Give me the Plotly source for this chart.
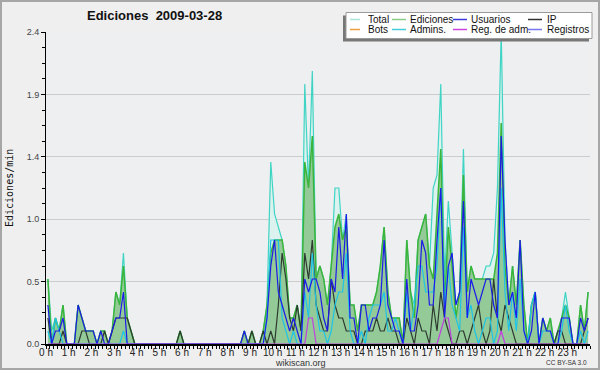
import plotly.graph_objects as go

# ---- data: edits per minute, 10-minute buckets (6 per hour) ----
hour_labels = [f"{h} h" for h in range(24)]

total = [
    0.5, 0.1, 0.2, 0.1, 0.3, 0,    0, 0, 0.3, 0.2, 0.1, 0.1,
    0.1, 0, 0.1, 0.1, 0, 0.1,      0.4, 0.3, 0.7, 0.2, 0.1, 0,
    0, 0, 0, 0, 0, 0,              0, 0, 0, 0, 0, 0.1,
    0, 0, 0, 0, 0, 0,              0, 0, 0, 0, 0, 0,
    0, 0, 0, 0, 0.1, 0,            0.1, 0, 0, 0.1, 0.3, 1.4,
    1.0, 0.9, 0.8, 0.6, 0.2, 0.2,  0.3, 0.1, 2.0, 1.2, 2.1, 0.5,
    0.6, 0.5, 0.3, 0.6, 1.2, 1.2,  0.8, 1.0, 0.3, 0.3, 0.1, 0.3,
    0.3, 0.3, 0.3, 0.4, 0.6, 0.9,  0.4, 0.2, 0.2, 0.2, 0, 0.8,
    0.4, 0.3, 0.8, 0.9, 1.0, 0.6,  1.2, 1.3, 2.0, 0.5, 1.1, 0.7,
    0.3, 0.4, 1.5, 0.4, 0.6, 0.5,  0.5, 0.5, 0.6, 0.6, 0.7, 1.2,
    2.4, 0.8, 0.3, 0.6, 0.3, 0.8,  0.3, 0, 0.3, 0.4, 0, 0.2,
    0.1, 0.2, 0, 0.1, 0.2, 0.4,    0.2, 0, 0, 0.3, 0.1, 0.4,
]
ediciones = [
    0.5, 0, 0.2, 0.1, 0.3, 0,      0, 0, 0.3, 0.2, 0.1, 0.1,
    0.1, 0, 0.1, 0.1, 0, 0.1,      0.4, 0.3, 0.6, 0.2, 0.1, 0,
    0, 0, 0, 0, 0, 0,              0, 0, 0, 0, 0, 0.1,
    0, 0, 0, 0, 0, 0,              0, 0, 0, 0, 0, 0,
    0, 0, 0, 0, 0.1, 0,            0.1, 0, 0, 0.1, 0.3, 0.7,
    0.8, 0.8, 0.8, 0.6, 0.2, 0.2,  0.3, 0.1, 1.4, 1.2, 1.6, 0.5,
    0.6, 0.5, 0.3, 0.6, 0.9, 1.0,  0.8, 0.9, 0.3, 0.3, 0.1, 0.3,
    0.3, 0.3, 0.3, 0.4, 0.6, 0.9,  0.4, 0.2, 0.2, 0.2, 0, 0.8,
    0.4, 0.2, 0.8, 0.9, 1.0, 0.6,  0.5, 1.0, 1.5, 0.3, 0.9, 0.6,
    0.2, 0.4, 1.3, 0.4, 0.6, 0.5,  0.5, 0.5, 0.5, 0.5, 0.5, 0.7,
    1.7, 0.6, 0.3, 0.6, 0.3, 0.8,  0.3, 0, 0.3, 0.4, 0, 0.2,
    0.1, 0.2, 0, 0.1, 0.2, 0.3,    0.2, 0, 0, 0.3, 0.1, 0.4,
]
usuarios = [
    0.3, 0, 0.1, 0.1, 0.2, 0,      0, 0, 0.3, 0.2, 0.1, 0.1,
    0.1, 0, 0.1, 0, 0, 0.1,        0.2, 0.2, 0.4, 0, 0, 0,
    0, 0, 0, 0, 0, 0,              0, 0, 0, 0, 0, 0,
    0, 0, 0, 0, 0, 0,              0, 0, 0, 0, 0, 0,
    0, 0, 0, 0, 0.1, 0,            0, 0, 0, 0, 0.2, 0.6,
    0.8, 0.4, 0.3, 0.2, 0.1, 0.2,  0.1, 0, 0.5, 0.4, 0.5, 0.5,
    0.4, 0.2, 0.1, 0.5, 0.4, 0.9,  0.5, 1.0, 0.2, 0.2, 0, 0.3,
    0.3, 0.1, 0.2, 0.2, 0.3, 0.8,  0.3, 0.2, 0.1, 0.1, 0, 0.5,
    0.1, 0.1, 0.3, 0.8, 0.7, 0.3,  0.3, 0.8, 1.2, 0.2, 0.6, 0.7,
    0.3, 0.4, 1.1, 0.2, 0.5, 0.4,  0.3, 0.4, 0.5, 0.5, 0.3, 0.2,
    1.6, 0.8, 0.3, 0.4, 0.2, 0.8,  0.1, 0, 0.1, 0.4, 0, 0.2,
    0.1, 0.1, 0, 0, 0.2, 0.2,      0.2, 0, 0, 0.2, 0.1, 0.2,
]
ip = [
    0.2, 0, 0, 0, 0.1, 0,          0, 0, 0, 0.1, 0.1, 0,
    0, 0, 0, 0.1, 0, 0.1,          0.2, 0.2, 0.2, 0.2, 0.1, 0,
    0, 0, 0, 0, 0, 0,              0, 0, 0, 0, 0, 0.1,
    0, 0, 0, 0, 0, 0,              0, 0, 0, 0, 0, 0,
    0, 0, 0, 0, 0, 0,              0.1, 0, 0, 0.1, 0, 0.1,
    0, 0.3, 0.7, 0.5, 0.2, 0.1,    0.3, 0.1, 0.7, 0.5, 0.8, 0.3,
    0.2, 0.1, 0.1, 0.5, 0.3, 0.2,  0.2, 0.1, 0.1, 0.1, 0, 0,
    0.1, 0.1, 0.1, 0.2, 0.1, 0.1,  0.2, 0.1, 0.1, 0, 0, 0.2,
    0.1, 0, 0.2, 0.1, 0.1, 0,      0.3, 0.1, 0.4, 0.2, 0.1, 0,
    0, 0.1, 0.1, 0, 0.1, 0.2,      0.3, 0.1, 0, 0.1, 0.5, 0.2,
    0.1, 0.3, 0.2, 0.1, 0, 0,      0, 0, 0, 0, 0, 0,
    0, 0, 0, 0.1, 0.1, 0,          0, 0, 0, 0, 0.1, 0.2,
]
admins = [
    0.1, 0, 0.2, 0.1, 0, 0,        0, 0, 0, 0, 0, 0,
    0, 0, 0, 0, 0, 0,              0, 0, 0.1, 0, 0, 0,
    0, 0, 0, 0, 0, 0,              0, 0, 0, 0, 0, 0,
    0, 0, 0, 0, 0, 0,              0, 0, 0, 0, 0, 0,
    0, 0, 0, 0, 0, 0,              0, 0, 0, 0, 0.2, 0.8,
    0.8, 0.8, 0.2, 0.1, 0, 0.1,    0, 0, 0.4, 0.2, 0.7, 0.3,
    0.1, 0.1, 0, 0.1, 0.3, 0.4,    0.4, 0.7, 0.1, 0, 0, 0.1,
    0, 0.2, 0.3, 0.3, 0.3, 0.4,    0.1, 0.1, 0.2, 0.1, 0, 0.4,
    0.1, 0.3, 0.6, 0.6, 0.4, 0.4,  0.4, 0.6, 1.2, 0.3, 0.6, 0.3,
    0.2, 0.1, 0.9, 0.2, 0.3, 0.1,  0, 0.1, 0.2, 0.2, 0, 0.1,
    1.2, 0.4, 0.1, 0.4, 0.1, 0.5,  0.1, 0, 0.3, 0.4, 0, 0.1,
    0.1, 0.1, 0, 0, 0.1, 0.3,      0.1, 0, 0, 0.1, 0, 0.1,
]
reg_adm = [
    0, 0, 0, 0, 0, 0,              0, 0, 0, 0, 0, 0,
    0, 0, 0, 0, 0, 0,              0, 0, 0, 0, 0, 0,
    0, 0, 0, 0, 0, 0,              0, 0, 0, 0, 0, 0,
    0, 0, 0, 0, 0, 0,              0, 0, 0, 0, 0, 0,
    0, 0, 0, 0, 0, 0,              0, 0, 0, 0, 0, 0,
    0, 0, 0, 0, 0, 0,              0, 0, 0, 0.2, 0.2, 0,
    0, 0, 0, 0, 0, 0,              0, 0, 0, 0, 0, 0,
    0, 0, 0, 0, 0, 0,              0, 0, 0, 0, 0, 0,
    0, 0, 0, 0, 0, 0,              0, 0, 0.1, 0.2, 0.2, 0,
    0, 0, 0, 0, 0, 0,              0, 0, 0, 0, 0, 0,
    0.1, 0, 0, 0, 0, 0,            0, 0, 0, 0, 0, 0,
    0, 0, 0, 0, 0, 0,              0, 0, 0, 0, 0, 0,
]

legend_names = ["Total", "Ediciones", "Usuarios", "IP",
                "Bots", "Admins.", "Reg. de adm.", "Registros"]
legend_colors = ["#a8e6dc", "#88cc88", "#3a3ad8", "#333333",
                 "#f0a040", "#44ccdd", "#cc44dd", "#7777ee"]

# x positions in hours (center of each 10-minute bucket)
x = [(i + 0.5) / 6 for i in range(len(total))]

fig = go.Figure()
fig.add_trace(go.Scatter(x=x, y=total, name="Total", mode="lines", fill="tozeroy",
                         fillcolor="#dcf2ee", line=dict(color="#3fd4c4", width=1.2)))
fig.add_trace(go.Scatter(x=x, y=ediciones, name="Ediciones", mode="lines", fill="tozeroy",
                         fillcolor="#94ca98", line=dict(color="#3ab43a", width=1.5)))
fig.add_trace(go.Scatter(x=x, y=ip, name="IP", mode="lines",
                         line=dict(color="#2e3a30", width=1.2)))
fig.add_trace(go.Scatter(x=x, y=admins, name="Admins.", mode="lines",
                         line=dict(color="#1ec4e6", width=1.2)))
fig.add_trace(go.Scatter(x=x, y=usuarios, name="Usuarios", mode="lines",
                         line=dict(color="#1c1ce8", width=1.2)))
fig.add_trace(go.Scatter(x=x, y=reg_adm, name="Reg. de adm.", mode="lines",
                         line=dict(color="#c040e0", width=1.2)))
fig.update_traces(showlegend=False, hoverinfo="skip")

L, R, T, B = 46, 590, 32, 344
def PX(px):
    return (px - L) / (R - L)
def PY(py):
    return (B - py) / (B - T)

shapes = []
annotations = []
# outer border of the image
shapes.append(dict(type="rect", xref="paper", yref="paper", layer="above",
                   x0=PX(1), x1=PX(599), y0=PY(369), y1=PY(1),
                   line=dict(color="#a6a6a6", width=2)))
# legend box with shadow
shapes.append(dict(type="rect", xref="paper", yref="paper", layer="above",
                   x0=PX(343), x1=PX(589), y0=PY(41.5), y1=PY(15.5),
                   fillcolor="#777777", line=dict(width=0)))
shapes.append(dict(type="rect", xref="paper", yref="paper", layer="above",
                   x0=PX(346), x1=PX(592), y0=PY(38.5), y1=PY(12.5),
                   fillcolor="#ffffff", line=dict(color="#9a9a9a", width=1)))
col_line = [(350, 360), (392, 406), (453, 467), (528, 542)]
col_text = [366, 408, 469, 545]
row_y = [19.5, 29.5]
for k, (name, col) in enumerate(zip(legend_names, legend_colors)):
    r, c = divmod(k, 4)
    shapes.append(dict(type="line", xref="paper", yref="paper", layer="above",
                       x0=PX(col_line[c][0]), x1=PX(col_line[c][1]),
                       y0=PY(row_y[r]), y1=PY(row_y[r]),
                       line=dict(color=col, width=1.5)))
    annotations.append(dict(text=name, xref="paper", yref="paper",
                            x=PX(col_text[c]), y=PY(row_y[r]), xanchor="left", yanchor="middle",
                            showarrow=False, font=dict(family="Liberation Sans", size=10, color="#111")))

annotations += [
    dict(text="<b>Ediciones  2009-03-28</b>", xref="paper", yref="paper",
         x=PX(154), y=PY(16), xanchor="center", yanchor="middle", showarrow=False,
         font=dict(family="Liberation Sans", size=13, color="#111")),
    dict(text="Ediciones/min", xref="paper", yref="paper", textangle=-90,
         x=PX(9), y=PY(188), xanchor="center", yanchor="middle", showarrow=False,
         font=dict(family="DejaVu Sans Mono", size=10, color="#111")),
    dict(text="wikiscan.org", xref="paper", yref="paper",
         x=PX(300), y=PY(362.5), xanchor="center", yanchor="middle", showarrow=False,
         font=dict(family="Liberation Sans", size=9, color="#333")),
    dict(text="CC BY-SA 3.0", xref="paper", yref="paper",
         x=PX(589), y=PY(362.5), xanchor="right", yanchor="middle", showarrow=False,
         font=dict(family="Liberation Sans", size=6.5, color="#333")),
]

fig.update_layout(
    template="none",
    width=600, height=370,
    margin=dict(l=L, r=600 - R, t=T, b=370 - B, pad=0, autoexpand=False),
    paper_bgcolor="#efefef", plot_bgcolor="#eeeff1",
    showlegend=False, hovermode=False,
    shapes=shapes, annotations=annotations,
    xaxis=dict(range=[0, 24], tickvals=list(range(24)), ticktext=hour_labels,
               automargin=False,
               ticks="outside", ticklen=3, tickcolor="#000", tickwidth=1,
               ticklabelstandoff=-5,
               showline=True, linecolor="#000", linewidth=2,
               showgrid=False, zeroline=False,
               tickfont=dict(family="Liberation Sans", size=10, color="#222"),
               minor=dict(dtick=1 / 6, tick0=0, ticks="outside", ticklen=3,
                          tickcolor="#000", tickwidth=1, showgrid=False)),
    yaxis=dict(range=[0, 2.4], tickvals=[0, 0.48, 0.96, 1.44, 1.92, 2.4],
               ticktext=["0.0", "0.5", "1.0", "1.4", "1.9", "2.4"],
               automargin=False,
               ticks="outside", ticklen=4, tickcolor="#000", tickwidth=1,
               showline=True, linecolor="#000", linewidth=1,
               showgrid=True, gridcolor="#cccccc", gridwidth=1, zeroline=False,
               tickfont=dict(family="Liberation Sans", size=9, color="#444"),
               minor=dict(dtick=0.12, tick0=0, ticks="outside", ticklen=3,
                          tickcolor="#000", tickwidth=1, showgrid=False)),
)

fig.write_html("out.html", config={"displayModeBar": False, "staticPlot": True},
               post_script="document.body.style.margin='0px';document.body.style.padding='0px';")
